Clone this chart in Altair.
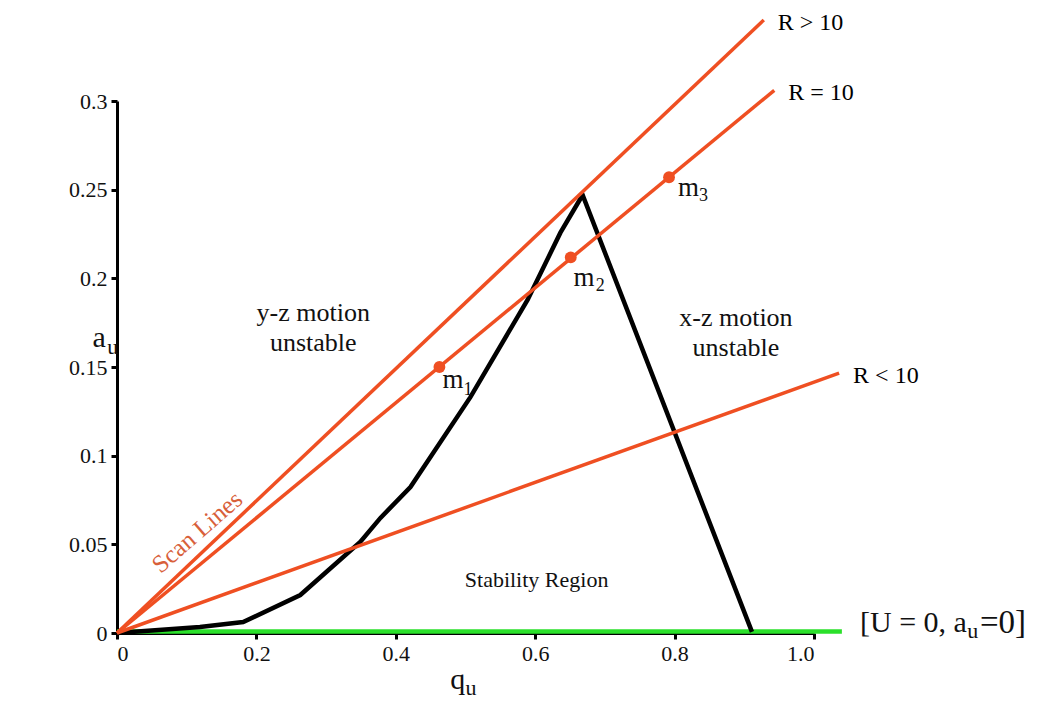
import altair as alt
import pandas as pd

# ---------------- data ----------------
curve_q = [0, 0.119, 0.181, 0.263, 0.349, 0.378, 0.421, 0.507, 0.589, 0.636, 0.668, 0.911]
curve_a = [0, 0.0034, 0.0062, 0.0214, 0.0513, 0.0649, 0.0823, 0.133, 0.1878, 0.2256, 0.247, 0.0006]

scan_names = ["R > 10", "R = 10", "R < 10"]
scan_end_q = [0.928, 0.943, 1.036]
scan_end_a = [0.3457, 0.306, 0.1466]

point_q = [0.4626, 0.651, 0.792]
point_a = [0.150, 0.2118, 0.257]

baseline_q = [0, 1.04]
baseline_a = [0.0008, 0.0008]

x_ticks = [0, 0.2, 0.4, 0.6, 0.8, 1.0]
y_ticks = [0, 0.05, 0.1, 0.15, 0.2, 0.25, 0.3]

# region annotations
ann_text = ["y-z motion", "unstable", "x-z motion", "unstable"]
ann_q = [0.2816, 0.2816, 0.888, 0.888]
ann_a = [0.1805, 0.1635, 0.1776, 0.1607]

stab_text = ["Stability Region"]
stab_q = [0.602]
stab_a = [0.0299]

# point labels m + subscript
m_q = [0.467, 0.655, 0.805]
m_a = [0.1427, 0.2, 0.251]
sub_text = ["1", "2", "3"]
sub_q = [0.497, 0.687, 0.835]
sub_a = [0.137, 0.1957, 0.2464]

ORANGE = "#EF4F22"
FONT = "Liberation Serif"

x_scale = alt.Scale(domain=[0, 1.0], nice=False, zero=False)
y_scale = alt.Scale(domain=[0, 0.3], nice=False, zero=False)
x_axis = alt.Axis(values=x_ticks, title=None,
                  labelExpr="datum.value == 0 ? '0' : format(datum.value, '.1f')")
y_axis = alt.Axis(values=y_ticks, title=None,
                  labelExpr="datum.value == 0 ? '0' : format(datum.value, '.2~f')")


def X():
    return alt.X("q:Q", scale=x_scale, axis=x_axis)


def Y():
    return alt.Y("a:Q", scale=y_scale, axis=y_axis)


curve_df = pd.DataFrame({"q": curve_q, "a": curve_a, "i": range(len(curve_q))})
scan_rows = []
for n, eq, ea in zip(scan_names, scan_end_q, scan_end_a):
    scan_rows.append({"name": n, "q": 0.0, "a": 0.0, "i": 0})
    scan_rows.append({"name": n, "q": eq, "a": ea, "i": 1})
scan_df = pd.DataFrame(scan_rows)
scan_end_df = pd.DataFrame({"name": scan_names, "q": scan_end_q, "a": scan_end_a})
pts_df = pd.DataFrame({"q": point_q, "a": point_a})
base_df = pd.DataFrame({"q": baseline_q, "a": baseline_a})
ann_df = pd.DataFrame({"t": ann_text, "q": ann_q, "a": ann_a})
stab_df = pd.DataFrame({"t": stab_text, "q": stab_q, "a": stab_a})
m_df = pd.DataFrame({"t": ["m"] * 3, "q": m_q, "a": m_a})
sub_df = pd.DataFrame({"t": sub_text, "q": sub_q, "a": sub_a})

base = alt.Chart(base_df).mark_line(color="#2BE02B", strokeWidth=4.5).encode(x=X(), y=Y())

curve = alt.Chart(curve_df).mark_line(color="black", strokeWidth=4.5, strokeJoin="miter").encode(
    x=X(), y=Y(), order="i:Q")

scan = alt.Chart(scan_df).mark_line(color=ORANGE, strokeWidth=3.5).encode(
    x=X(), y=Y(), detail="name:N", order="i:Q")

scan_lbl = alt.Chart(scan_end_df).mark_text(
    align="left", baseline="middle", dx=14, dy=3, font=FONT, fontSize=24, color="black"
).encode(x=X(), y=Y(), text="name:N")

pts = alt.Chart(pts_df).mark_point(filled=True, shape="circle", size=140, color=ORANGE, opacity=1).encode(
    x=X(), y=Y())

ann = alt.Chart(ann_df).mark_text(
    align="center", baseline="middle", font=FONT, fontSize=26, color="#111"
).encode(x=X(), y=Y(), text="t:N")

stab = alt.Chart(stab_df).mark_text(
    align="center", baseline="middle", font=FONT, fontSize=22, color="#111"
).encode(x=X(), y=Y(), text="t:N")

m_lbl = alt.Chart(m_df).mark_text(
    align="left", baseline="middle", font=FONT, fontSize=27, color="#111"
).encode(x=X(), y=Y(), text="t:N")

sub_lbl = alt.Chart(sub_df).mark_text(
    align="left", baseline="middle", font=FONT, fontSize=18, color="#111"
).encode(x=X(), y=Y(), text="t:N")

scan_title = alt.Chart(pd.DataFrame({"t": ["Scan Lines"], "q": [0.115], "a": [0.057]})).mark_text(
    align="center", baseline="middle", angle=319, font=FONT, fontSize=25, color="#D8603A"
).encode(x=X(), y=Y(), text="t:N")

# axis titles and the baseline label, built from glyph pieces
title_df = pd.DataFrame({
    "t": ["a", "q", "[U = 0, a"],
    "q": [-0.035, 0.478, 1.066],
    "a": [0.1665, -0.0265, 0.0056],
})
title_lbl = alt.Chart(title_df).mark_text(
    align="left", baseline="middle", font=FONT, fontSize=30, color="#111"
).encode(x=X(), y=Y(), text="t:N")

end_df = pd.DataFrame({"t": ["=0]"], "q": [1.238], "a": [0.0056]})
end_lbl = alt.Chart(end_df).mark_text(
    align="left", baseline="middle", font=FONT, fontSize=33, color="#111"
).encode(x=X(), y=Y(), text="t:N")

tsub_df = pd.DataFrame({"t": ["u", "u", "u"], "q": [-0.014, 0.500, 1.220], "a": [0.1615, -0.031, 0.0010]})
tsub_lbl = alt.Chart(tsub_df).mark_text(
    align="left", baseline="middle", font=FONT, fontSize=22, color="#111"
).encode(x=X(), y=Y(), text="t:N")

chart = alt.layer(
    base, curve, scan, pts, scan_lbl, ann, stab, m_lbl, sub_lbl, scan_title, title_lbl, end_lbl, tsub_lbl
).properties(
    width=697, height=532,
    autosize=alt.AutoSizeParams(type="none"),
    padding={"left": 109, "top": 93, "right": 222, "bottom": 70},
).configure_view(stroke=None).configure_axis(
    grid=False, domainColor="black", domainWidth=3, tickColor="black", tickWidth=3,
    tickSize=6, labelFont=FONT, labelFontSize=22, labelColor="#111", labelPadding=4
)

chart.save("out.html", embed_options={"renderer": "svg", "actions": False})
